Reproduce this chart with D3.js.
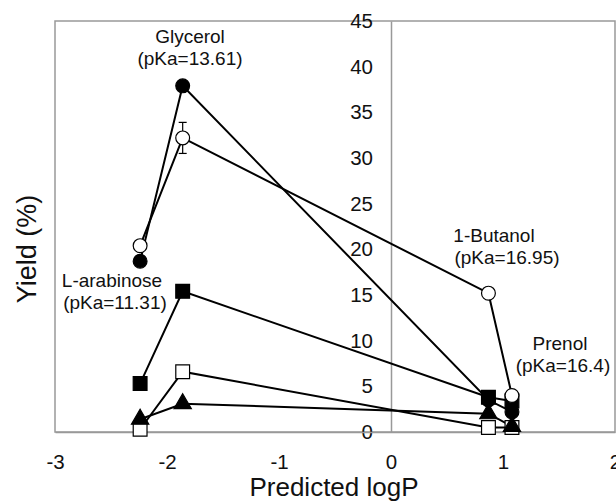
<!DOCTYPE html>
<html>
<head>
<meta charset="utf-8">
<script src="https://cdn.jsdelivr.net/npm/d3@7"></script>
<style>
  body { margin: 0; background: #fff; }
  svg { font-family: "Liberation Sans", Arial, sans-serif; }
</style>
</head>
<body>
<script>
// compounds (predicted logP) in plotting order
const compounds = ['L-arabinose', 'Glycerol', '1-Butanol', 'Prenol'];
const logP = [-2.24, -1.86, 0.87, 1.08];

// yield (%) per series, one value per compound
const filledCircle = [18.7, 37.9, 3.5, 2.2];
const openCircle = [20.4, 32.2, 15.2, 4.0];
const filledSquare = [5.3, 15.4, 3.8, 3.4];
const openSquare = [0.3, 6.6, 0.5, 0.5];
const filledTriangle = [1.4, 3.1, 2.0, 0.6];
const openCircleErr = [0, 1.7, 0, 0];

const xTicks = [-3, -2, -1, 0, 1, 2];
const yTicks = [0, 5, 10, 15, 20, 25, 30, 35, 40, 45];

const width = 616, height = 504;
const font = '"Liberation Sans", Arial, sans-serif';
const svg = d3.select('body').append('svg')
  .attr('width', width).attr('height', height);

const x = d3.scaleLinear().domain([-3, 2]).range([55, 615]);
const y = d3.scaleLinear().domain([0, 45]).range([432, 21]);

// frame
svg.append('rect')
  .attr('x', x(-3)).attr('y', y(45))
  .attr('width', x(2) - x(-3)).attr('height', y(0) - y(45))
  .attr('fill', 'none').attr('stroke', '#999').attr('stroke-width', 1.5);

// y axis sits at logP = 0
const yAxis = svg.append('g')
  .attr('transform', `translate(${x(0)},0)`)
  .call(d3.axisLeft(y).tickValues(yTicks).tickSize(0).tickPadding(18));
yAxis.select('.domain').attr('stroke', '#999').attr('stroke-width', 1.5);
yAxis.selectAll('text').attr('font-size', 20.5).attr('fill', '#111')
  .attr('font-family', font);

const xAxis = svg.append('g')
  .attr('transform', `translate(0,${y(0)})`)
  .call(d3.axisBottom(x).tickValues(xTicks).tickFormat(d => String(d)).tickSize(0).tickPadding(22));
xAxis.select('.domain').attr('stroke', '#999').attr('stroke-width', 1.5);
xAxis.selectAll('text').attr('font-size', 20.5).attr('fill', '#111')
  .attr('font-family', font);

// axis titles
svg.append('text')
  .text('Predicted logP')
  .attr('x', 334).attr('y', 496)
  .attr('text-anchor', 'middle').attr('font-size', 26).attr('fill', '#111');

svg.append('text')
  .text('Yield (%)')
  .attr('transform', 'translate(36,249) rotate(-90)')
  .attr('text-anchor', 'middle').attr('font-size', 27).attr('fill', '#111');

const series = [
  { values: filledSquare, shape: d3.symbolSquare, fill: '#000', size: 190 },
  { values: openSquare, shape: d3.symbolSquare, fill: '#fff', size: 190 },
  { values: filledTriangle, shape: d3.symbolTriangle, fill: '#000', size: 130 },
  { values: filledCircle, shape: d3.symbolCircle, fill: '#000', size: 150 },
  { values: openCircle, shape: d3.symbolCircle, fill: '#fff', size: 150 }
];

const line = d3.line()
  .x((d, i) => x(logP[i]))
  .y(d => y(d));

// lines first
series.forEach(s => {
  svg.append('path')
    .datum(s.values)
    .attr('d', line)
    .attr('fill', 'none')
    .attr('stroke', '#000')
    .attr('stroke-width', 2);
});

// error bars on open circles
const errG = svg.append('g');
openCircle.forEach((v, i) => {
  const e = openCircleErr[i];
  if (!e) return;
  const cx = x(logP[i]);
  errG.append('line').attr('x1', cx).attr('x2', cx)
    .attr('y1', y(v + e)).attr('y2', y(v - e)).attr('stroke', '#000').attr('stroke-width', 1.2);
  [v + e, v - e].forEach(t => {
    errG.append('line').attr('x1', cx - 4).attr('x2', cx + 4)
      .attr('y1', y(t)).attr('y2', y(t)).attr('stroke', '#000').attr('stroke-width', 1.2);
  });
});

// markers
series.forEach(s => {
  svg.append('g').selectAll('path')
    .data(s.values)
    .enter()
    .append('path')
    .attr('transform', (d, i) => `translate(${x(logP[i])},${y(d)})`)
    .attr('d', d3.symbol().type(s.shape).size(s.size))
    .attr('fill', s.fill)
    .attr('stroke', '#000')
    .attr('stroke-width', 1.2);
});

// compound annotations
const labels = [
  { name: 'Glycerol', pka: '(pKa=13.61)', x1: 190, x2: 190, ly: 43 },
  { name: '1-Butanol', pka: '(pKa=16.95)', x1: 494, x2: 507, ly: 242 },
  { name: 'L-arabinose', pka: '(pKa=11.31)', x1: 112, x2: 115, ly: 287 },
  { name: 'Prenol', pka: '(pKa=16.4)', x1: 560, x2: 563, ly: 350 }
];
labels.forEach(l => {
  const t = svg.append('text')
    .attr('text-anchor', 'middle').attr('font-size', 19).attr('fill', '#111');
  t.append('tspan').attr('x', l.x1).attr('y', l.ly).text(l.name);
  t.append('tspan').attr('x', l.x2).attr('y', l.ly + 22).text(l.pka);
});
</script>
</body>
</html>
